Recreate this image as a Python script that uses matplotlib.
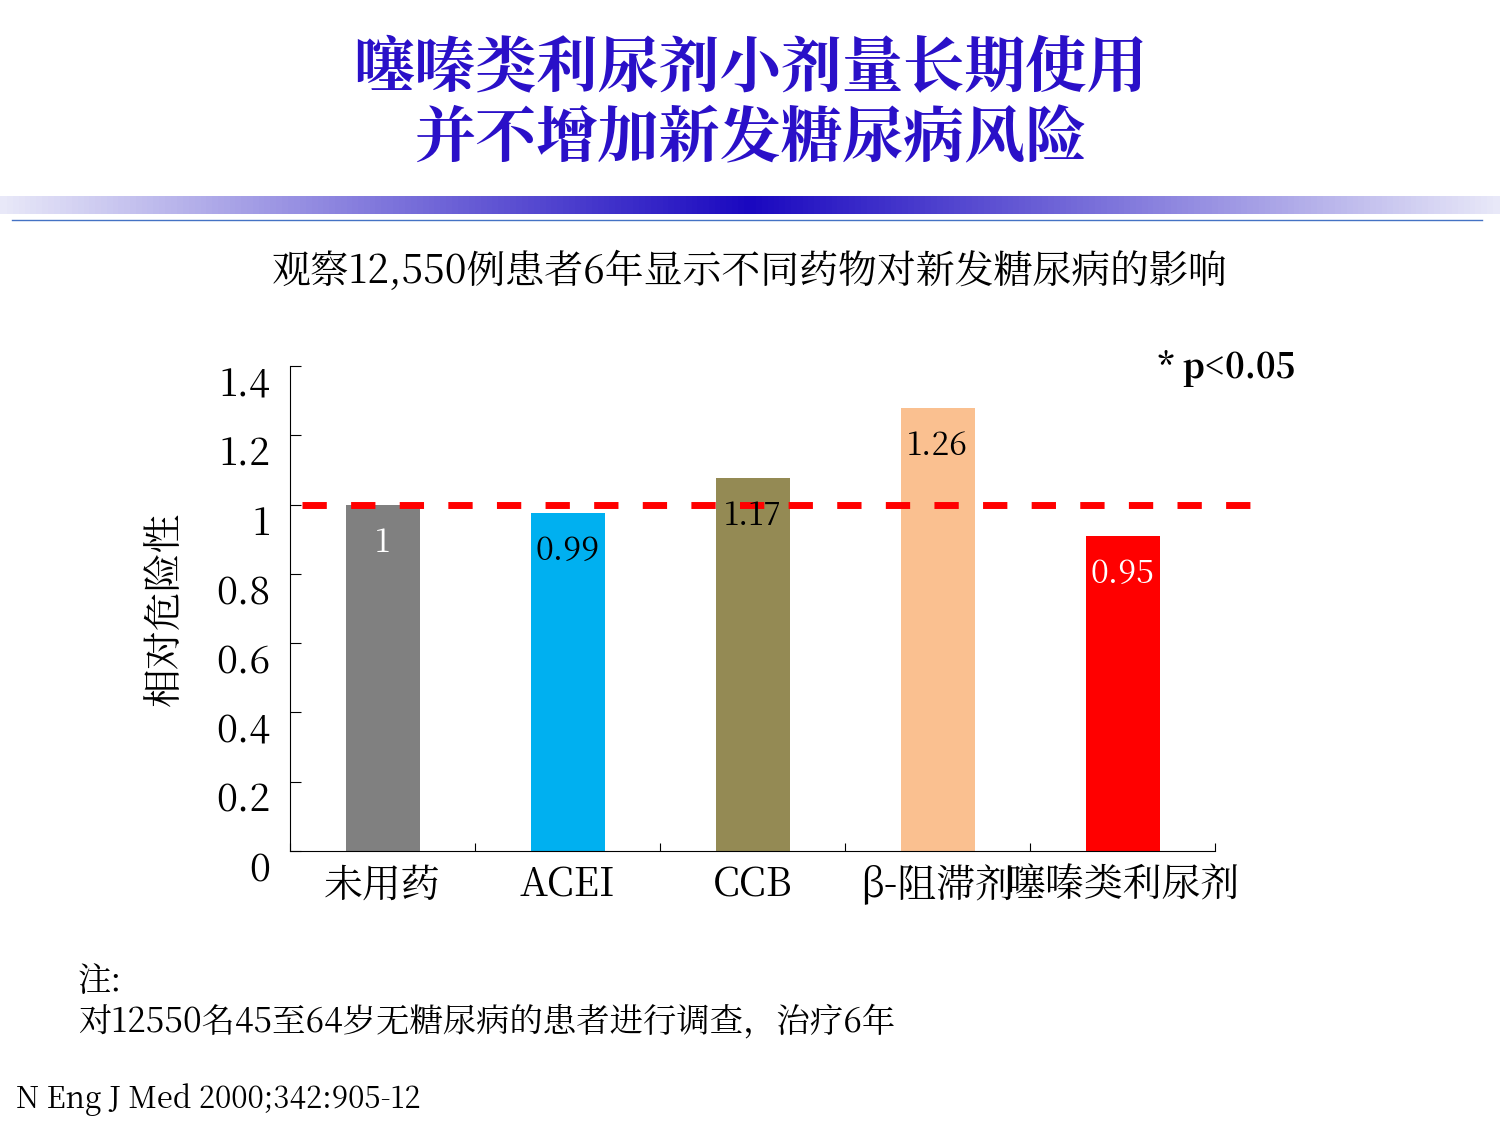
import matplotlib
matplotlib.use("Agg")
import matplotlib.pyplot as plt
from matplotlib import font_manager as fm
import numpy as np
from matplotlib.colors import LinearSegmentedColormap

cjk = None
for f in fm.fontManager.ttflist:
    if "CJK" in f.name and ("SC" in f.name or cjk is None):
        cjk = f.name
        if "SC" in f.name:
            break
if cjk is None:
    for p in fm.findSystemFonts():
        if "CJK" in p or "cjk" in p:
            fm.fontManager.addfont(p)
            cjk = fm.FontProperties(fname=p).get_name()
            break
plt.rcParams['font.family'] = [cjk or 'Noto Sans CJK SC', 'DejaVu Sans']

categories = ["未用药", "ACEI", "CCB", "β-阻滞剂", "噻嗪类利尿剂"]
bar_heights = [1.00, 0.977, 1.078, 1.28, 0.91]
value_labels = ["1", "0.99", "1.17", "1.26", "0.95"]
colors = ["#808080", "#00B0F0", "#948A54", "#FAC090", "#FF0000"]
label_colors = ["white", "black", "black", "black", "white"]
yticks = [0, 0.2, 0.4, 0.6, 0.8, 1.0, 1.2, 1.4]
yticklabels = ["0", "0.2", "0.4", "0.6", "0.8", "1", "1.2", "1.4"]

fig = plt.figure(figsize=(15, 11.25), dpi=100)
W, H = 1500, 1125

fig.text(0.5, 1 - 70/H, "噻嗪类利尿剂小剂量长期使用", ha='center', va='center',
         fontsize=44, fontweight='bold', color='#2A10C8')
fig.text(0.5, 1 - 140/H, "并不增加新发糖尿病风险", ha='center', va='center',
         fontsize=44, fontweight='bold', color='#2A10C8')

gax = fig.add_axes([0, 1 - 214/H, 1, 18/H])
cmap = LinearSegmentedColormap.from_list("g", ["#E8E8F8", "#1A08C0", "#E8E8F8"])
gax.imshow(np.linspace(0, 1, 500)[None, :], aspect='auto', cmap=cmap)
gax.axis('off')
fig.add_artist(plt.Line2D([12/W, 1482/W], [1 - 220/H] * 2, color='#4472C4', lw=1))

fig.text(0.5, 1 - 272/H, "观察12,550例患者6年显示不同药物对新发糖尿病的影响",
         ha='center', va='center', fontsize=28)

ax = fig.add_axes([290/W, 1 - 851/H, 925/W, 485/H])
x = np.arange(len(categories))
ax.bar(x, bar_heights, width=0.4, color=colors, zorder=2)
ax.axhline(1.0, xmin=12/925, xmax=962/925, color='#FF0000', lw=5, ls=(0, (3.5, 3.5)), zorder=3, clip_on=False)
for xi, h, lab, c in zip(x, bar_heights, value_labels, label_colors):
    ax.text(xi, h - 0.11, lab, ha='center', va='center', fontsize=23, color=c, zorder=4)
ax.set_xlim(-0.5, 4.5)
ax.set_ylim(0, 1.4)
ax.set_yticks(yticks)
ax.set_yticklabels(yticklabels, fontsize=27, va='top')
ax.set_xticks(np.arange(-0.5, 4.6, 1))
ax.set_xticklabels([])
ax.set_xticks(x, minor=True)
ax.set_xticklabels(categories, minor=True, fontsize=28)
ax.tick_params(axis='x', which='minor', length=0, pad=10)
ax.tick_params(axis='x', which='major', length=6, direction='in')
ax.tick_params(axis='y', length=8, direction='in', pad=14)
for s in ['top', 'right']:
    ax.spines[s].set_visible(False)
ax.set_ylabel("相对危险性", fontsize=28, labelpad=22)
fig.text(1296/W, 1 - 368/H, "* p<0.05", ha='right', va='center', fontsize=24, fontweight='bold')

fig.text(78/W, 1 - 982/H, "注:", fontsize=24, va='center')
fig.text(78/W, 1 - 1022/H, "对12550名45至64岁无糖尿病的患者进行调查，治疗6年", fontsize=24, va='center')
fig.text(16/W, 1 - 1100/H, "N Eng J Med 2000;342:905-12", fontsize=21, va='center')

fig.savefig("out.png", dpi=100)
